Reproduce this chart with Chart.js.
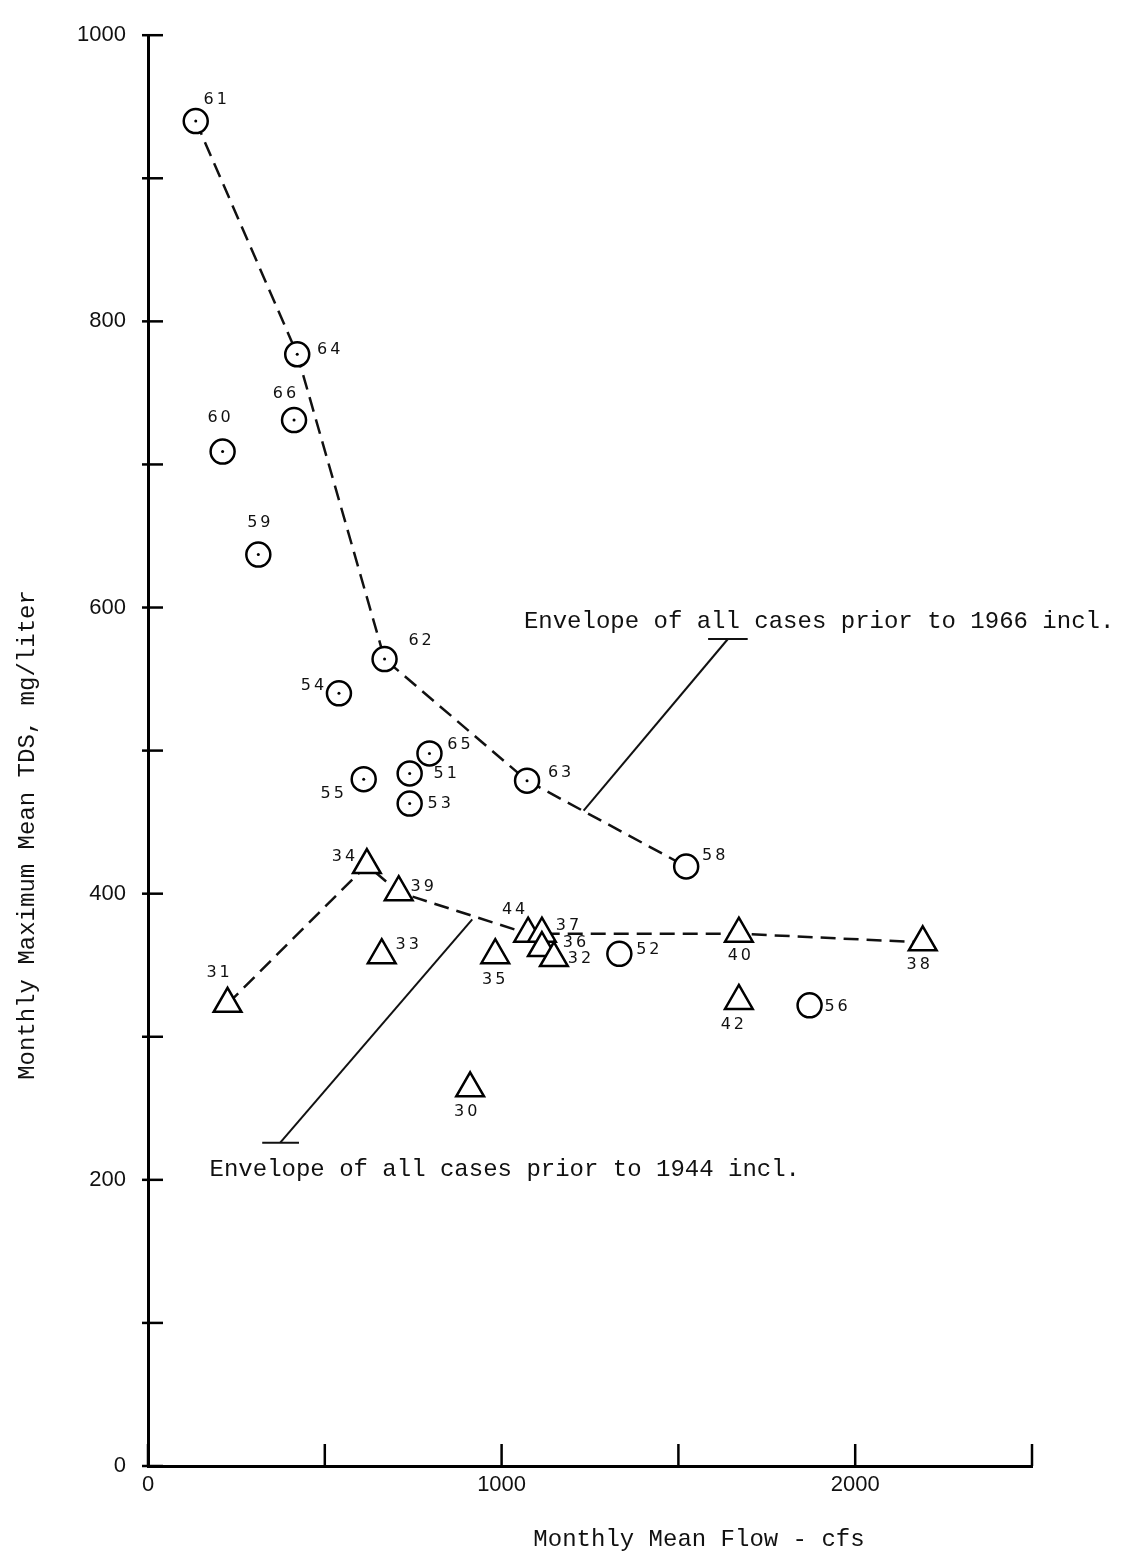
<!DOCTYPE html>
<html>
<head>
<meta charset="utf-8">
<title>Monthly Maximum Mean TDS vs Monthly Mean Flow</title>
<script src="https://cdn.jsdelivr.net/npm/chart.js@4.4.1/dist/chart.umd.min.js"></script>
<style>
  html, body { margin: 0; padding: 0; background: #fff; }
  canvas { display: block; }
</style>
</head>
<body>
<canvas id="myChart" width="1126" height="1564"></canvas>
<script>
// circles = years after 1944, triangles = years up to 1944
const circleYears = [61, 64, 66, 60, 59, 62, 54, 65, 51, 55, 53, 63, 58, 52, 56];
const circleFlow  = [135, 422, 413, 211, 312, 669, 540, 796, 740, 610, 740, 1072, 1522, 1333, 1871];
const circleTds   = [940, 777, 731, 709, 637, 564, 540, 498, 484, 480, 463, 479, 419, 358, 322];
const dottedYears = [61, 64, 66, 60, 59, 62, 54, 65, 51, 55, 53, 63];

const triYears = [34, 39, 31, 33, 44, 37, 36, 32, 35, 30, 40, 38, 42];
const triFlow  = [619, 709, 225, 661, 1075, 1114, 1114, 1148, 982, 911, 1671, 2191, 1671];
const triTds   = [420, 401, 323, 357, 372, 372, 362, 355, 357, 264, 372, 366, 325];

// envelope curves (dashed)
const env1966Flow = [135, 422, 669, 1072, 1522];
const env1966Tds  = [940, 777, 564, 479, 419];
const env1944Flow = [225, 619, 709, 1075, 1114, 1671, 2191];
const env1944Tds  = [323, 420, 401, 372, 372, 372, 366];

// leader lines to the envelope captions
const lead1966Flow = [1232, 1640];
const lead1966Tds  = [458, 578];
const bar1966Flow  = [1584, 1696];
const bar1966Tds   = [578, 578];
const lead1944Flow = [374, 917];
const lead1944Tds  = [226, 382];
const bar1944Flow  = [323, 427];
const bar1944Tds   = [226, 226];

const caption1966 = 'Envelope of all cases prior to 1966 incl.';
const caption1944 = 'Envelope of all cases prior to 1944 incl.';

const xTicks = [0, 500, 1000, 1500, 2000, 2500];
const xTickLabels = ['0', '1000', '2000'];
const yTicks = [0, 100, 200, 300, 400, 500, 600, 700, 800, 900, 1000];
const yTickLabels = ['0', '200', '400', '600', '800', '1000'];

const xTitle = 'Monthly Mean Flow - cfs';
const yTitle = 'Monthly Maximum Mean TDS, mg/liter';

// where each year number sits relative to its marker (px)
const labelOffset = {
  61: [21, -21], 64: [33, -4], 66: [-8, -26], 60: [-2, -34], 59: [2, -32],
  62: [37, -18], 54: [-25, -8], 65: [31, -9], 51: [37, 0], 55: [-30, 15],
  53: [31, 0], 63: [34, -8], 58: [29, -11], 52: [30, -4], 56: [28, 2],
  34: [-22, -8], 39: [25, -5], 31: [-8, -31], 33: [27, -10], 44: [-13, -24],
  37: [27, -8], 36: [34, -5], 32: [27, 1], 35: [0, 25], 30: [-3, 24],
  40: [2, 22], 38: [-3, 23], 42: [-5, 24]
};

function pts(xs, ys) {
  return xs.map((v, i) => ({ x: v, y: ys[i] }));
}

function segment(xs, ys, dash) {
  return {
    data: pts(xs, ys),
    showLine: true,
    borderColor: '#111',
    borderWidth: dash.length ? 2.5 : 2,
    borderDash: dash,
    pointRadius: 0,
    fill: false,
    order: 5
  };
}

const overlay = {
  id: 'overlay',
  afterDraw(chart) {
    const ctx = chart.ctx;
    const x = chart.scales.x;
    const y = chart.scales.y;
    const area = chart.chartArea;
    ctx.save();
    ctx.strokeStyle = '#000';
    ctx.lineWidth = 2.5;

    // inward tick marks
    yTicks.forEach(v => {
      const py = y.getPixelForValue(v);
      ctx.beginPath();
      ctx.moveTo(area.left - 6, py);
      ctx.lineTo(area.left + 15, py);
      ctx.stroke();
    });
    xTicks.forEach(v => {
      const px = x.getPixelForValue(v);
      ctx.beginPath();
      ctx.moveTo(px, area.bottom);
      ctx.lineTo(px, area.bottom - 22);
      ctx.stroke();
    });

    // year numbers
    ctx.fillStyle = '#111';
    ctx.font = '16px "DejaVu Sans"';
    ctx.textAlign = 'center';
    ctx.textBaseline = 'middle';
    ctx.letterSpacing = '3px';
    const putLabel = (yr, fx, fy) => {
      const off = labelOffset[yr] || [20, -10];
      ctx.fillText(String(yr), x.getPixelForValue(fx) + off[0], y.getPixelForValue(fy) + off[1]);
    };
    circleYears.forEach((yr, i) => putLabel(yr, circleFlow[i], circleTds[i]));
    triYears.forEach((yr, i) => putLabel(yr, triFlow[i], triTds[i]));
    ctx.letterSpacing = '0px';

    // captions
    ctx.font = '24px "Liberation Mono", "DejaVu Sans Mono", monospace';
    ctx.textAlign = 'left';
    ctx.fillStyle = '#111';
    ctx.fillText(caption1966, x.getPixelForValue(1063), y.getPixelForValue(590));
    ctx.fillText(caption1944, x.getPixelForValue(174), y.getPixelForValue(207));

    // axis titles
    ctx.textAlign = 'center';
    ctx.fillText(xTitle, 699, 1540);
    ctx.translate(28, 835);
    ctx.rotate(-Math.PI / 2);
    ctx.fillText(yTitle, 0, 0);
    ctx.restore();
  }
};

var chart;
var ctx = document.getElementById('myChart').getContext('2d');
chart = new Chart(ctx, {
  type: 'scatter',
  data: {
    datasets: [
      segment(env1966Flow, env1966Tds, [15, 8]),
      segment(env1944Flow, env1944Tds, [15, 8]),
      segment(lead1966Flow, lead1966Tds, []),
      segment(bar1966Flow, bar1966Tds, []),
      segment(lead1944Flow, lead1944Tds, []),
      segment(bar1944Flow, bar1944Tds, []),
      {
        label: 'after 1944',
        data: pts(circleFlow, circleTds),
        pointStyle: 'circle',
        pointRadius: 12,
        borderWidth: 2.5,
        borderColor: '#000',
        backgroundColor: '#fff',
        order: 2
      },
      {
        label: 'up to 1944',
        data: pts(triFlow, triTds),
        pointStyle: 'triangle',
        pointRadius: 16,
        borderWidth: 2.5,
        borderColor: '#000',
        backgroundColor: '#fff',
        order: 1
      },
      {
        label: 'centre dots',
        data: dottedYears.map(yr => {
          const i = circleYears.indexOf(yr);
          return { x: circleFlow[i], y: circleTds[i] };
        }),
        pointRadius: 1.5,
        borderWidth: 0,
        backgroundColor: '#000',
        order: 0
      }
    ]
  },
  options: {
    responsive: false,
    animation: false,
    events: [],
    layout: { padding: { top: 33, right: 94, left: 0, bottom: 0 } },
    plugins: {
      legend: { display: false },
      tooltip: { enabled: false }
    },
    scales: {
      x: {
        type: 'linear',
        min: 0,
        max: 2500,
        grid: { display: false, drawTicks: false },
        border: { display: true, color: '#000', width: 3 },
        ticks: {
          stepSize: 500,
          padding: 6,
          color: '#111',
          font: { family: '"Liberation Sans", Arial, sans-serif', size: 22 },
          callback: v => xTickLabels.includes(String(v)) ? String(v) : ''
        },
        afterFit: s => { s.height = 98; }
      },
      y: {
        type: 'linear',
        min: 0,
        max: 1000,
        grid: { display: false, drawTicks: false },
        border: { display: true, color: '#000', width: 3 },
        ticks: {
          stepSize: 100,
          padding: 22,
          color: '#111',
          font: { family: '"Liberation Sans", Arial, sans-serif', size: 22 },
          callback: v => yTickLabels.includes(String(v)) ? String(v) : ''
        },
        afterFit: s => { s.width = 148; }
      }
    }
  },
  plugins: [overlay]
});
</script>
</body>
</html>
